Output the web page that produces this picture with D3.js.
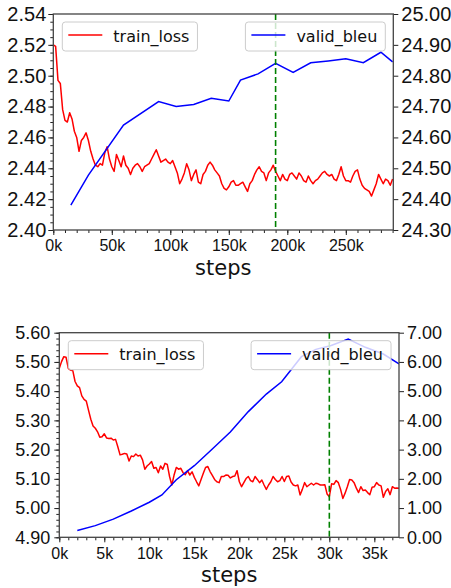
<!DOCTYPE html>
<html>
<head>
<meta charset="utf-8">
<script src="https://cdn.jsdelivr.net/npm/d3@7"></script>
<style>
  body { margin: 0; background: #fff; }
  svg { display: block; font-family: "DejaVu Sans", sans-serif; }
</style>
</head>
<body>
<div id="chart"></div>
<script>
// ---- run 1 (top panel) ----
var topLossEvery = 2000;
var topLoss = [
  2.520, 2.519, 2.497, 2.495, 2.478, 2.471, 2.470, 2.476, 2.472, 2.464,
  2.460, 2.451, 2.458, 2.460, 2.463, 2.458, 2.451, 2.446, 2.442, 2.441,
  2.443, 2.442, 2.450, 2.454, 2.446, 2.441, 2.438, 2.449, 2.445, 2.441,
  2.448, 2.442, 2.440, 2.436, 2.440, 2.442, 2.443, 2.441, 2.438, 2.441,
  2.442, 2.443, 2.446, 2.449, 2.452, 2.448, 2.444, 2.445, 2.446, 2.444,
  2.443, 2.445, 2.441, 2.437, 2.430, 2.433, 2.437, 2.443, 2.439, 2.432,
  2.436, 2.439, 2.431, 2.430, 2.436, 2.438, 2.442, 2.444, 2.442, 2.439,
  2.437, 2.435, 2.430, 2.427, 2.426, 2.428, 2.431, 2.432, 2.429, 2.429,
  2.430, 2.431, 2.428, 2.425, 2.430, 2.432, 2.436, 2.439, 2.441, 2.438,
  2.437, 2.432, 2.437, 2.439, 2.442, 2.438, 2.435, 2.432, 2.436, 2.433,
  2.432, 2.436, 2.437, 2.435, 2.433, 2.437, 2.435, 2.432, 2.431, 2.435,
  2.432, 2.430, 2.432, 2.433, 2.435, 2.437, 2.438, 2.436, 2.435, 2.436,
  2.433, 2.432, 2.436, 2.441, 2.435, 2.432, 2.432, 2.431, 2.435, 2.438,
  2.439, 2.433, 2.429, 2.427, 2.426, 2.425, 2.422, 2.426, 2.430, 2.436,
  2.433, 2.430, 2.433, 2.432, 2.429, 2.433
];
var topBleuSteps = [15000, 30000, 60000, 90000, 105000, 120000, 135000, 150000, 160000,
  175000, 190000, 205000, 220000, 235000, 250000, 265000, 280000, 290000];
var topBleu = [24.381, 24.478, 24.640, 24.716, 24.700, 24.707, 24.727, 24.718, 24.786,
  24.806, 24.840, 24.811, 24.842, 24.848, 24.855, 24.842, 24.876, 24.845];
var topBest = 190000;

// ---- run 2 (bottom panel) ----
var botLossEvery = 250;
var botLoss = [
  5.478, 5.501, 5.518, 5.516, 5.478, 5.472, 5.470, 5.433, 5.418, 5.412,
  5.384, 5.372, 5.366, 5.334, 5.304, 5.281, 5.273, 5.261, 5.242, 5.244,
  5.254, 5.240, 5.238, 5.239, 5.233, 5.235, 5.210, 5.182, 5.184, 5.187,
  5.185, 5.161, 5.178, 5.176, 5.185, 5.178, 5.181, 5.165, 5.133, 5.144,
  5.151, 5.159, 5.136, 5.139, 5.121, 5.144, 5.133, 5.153, 5.149, 5.108,
  5.079, 5.113, 5.139, 5.133, 5.136, 5.121, 5.114, 5.128, 5.113, 5.124,
  5.105, 5.090, 5.076, 5.098, 5.119, 5.139, 5.142, 5.125, 5.112, 5.098,
  5.090, 5.087, 5.108, 5.108, 5.113, 5.112, 5.103, 5.108, 5.110, 5.128,
  5.090, 5.073, 5.087, 5.101, 5.108, 5.094, 5.090, 5.108, 5.098, 5.087,
  5.096, 5.079, 5.064, 5.079, 5.090, 5.108, 5.098, 5.090, 5.094, 5.108,
  5.091, 5.108, 5.110, 5.089, 5.079, 5.076, 5.079, 5.045, 5.064, 5.087,
  5.073, 5.079, 5.085, 5.079, 5.085, 5.083, 5.079, 5.079, 5.080, 5.048,
  5.039, 5.083, 5.081, 5.094, 5.087, 5.064, 5.033, 5.051, 5.073, 5.098,
  5.096, 5.087, 5.068, 5.053, 5.073, 5.060, 5.062, 5.053, 5.046, 5.071,
  5.073, 5.087, 5.079, 5.076, 5.037, 5.057, 5.066, 5.046, 5.073, 5.068,
  5.069, 5.068
];
var botBleuSteps = [2000, 4000, 6000, 8000, 10000, 11400, 13000, 15000, 17000, 19000,
  21000, 23000, 24700, 26900, 28500, 30200, 32100, 34000, 36000, 37740];
var botBleu = [0.23, 0.40, 0.62, 0.90, 1.20, 1.45, 1.97, 2.45, 3.02, 3.60,
  4.30, 4.90, 5.32, 6.18, 6.43, 6.56, 6.78, 6.50, 6.27, 5.93];
var botBest = 30000;

var W = 451, H = 588;
var svg = d3.select("#chart").append("svg")
  .attr("width", W)
  .attr("height", H);

function panel(o) {
  var g = svg.append("g");
  var x = d3.scaleLinear().domain(o.xDomain).range([o.left, o.right]);
  var yL = d3.scaleLinear().domain(o.yLDomain).range([o.bottom, o.top]);
  var yR = d3.scaleLinear().domain(o.yRDomain).range([o.bottom, o.top]);
  var fmtK = d => (d / 1000) + "k";

  var clipId = "clip" + o.id;
  g.append("clipPath").attr("id", clipId)
    .append("rect")
    .attr("x", o.left).attr("y", o.top)
    .attr("width", o.right - o.left).attr("height", o.bottom - o.top);

  // minor ticks
  g.append("g").attr("transform", `translate(0,${o.bottom})`)
    .call(d3.axisBottom(x).tickValues(o.xMinor).tickSize(3).tickFormat(""))
    .call(a => a.select(".domain").remove());
  g.append("g").attr("transform", `translate(${o.left},0)`)
    .call(d3.axisLeft(yL).tickValues(o.yLMinor).tickSize(3).tickFormat(""))
    .call(a => a.select(".domain").remove());

  // major ticks
  var ax = g.append("g").attr("transform", `translate(0,${o.bottom})`)
    .call(d3.axisBottom(x).tickValues(o.xTicks).tickSize(5).tickPadding(5).tickFormat(fmtK));
  var ayl = g.append("g").attr("transform", `translate(${o.left},0)`)
    .call(d3.axisLeft(yL).tickValues(o.yLTicks).tickSize(5).tickPadding(o.padL).tickFormat(d3.format(".2f")));
  var ayr = g.append("g").attr("transform", `translate(${o.right},0)`)
    .call(d3.axisRight(yR).tickValues(o.yRTicks).tickSize(5).tickPadding(3).tickFormat(d3.format(".2f")));
  [ax, ayl, ayr].forEach(a => {
    a.select(".domain").remove();
    a.selectAll("text").attr("fill", "#111");
  });
  ax.selectAll("text").style("font-size", "16px");
  ayl.selectAll("text").style("font-size", o.ySize);
  ayr.selectAll("text").style("font-size", o.ySize);
  g.selectAll(".tick line").attr("stroke", "#222");

  // data lines
  var lineL = d3.line().x(d => x(d[0])).y(d => yL(d[1]));
  var lineR = d3.line().x(d => x(d[0])).y(d => yR(d[1]));
  var lossPts = o.loss.map((v, i) => [i * o.lossEvery, v]);
  var bleuPts = o.bleuSteps.map((s, i) => [s, o.bleu[i]]);
  var plot = g.append("g").attr("clip-path", `url(#${clipId})`);
  plot.append("path").datum(lossPts)
    .attr("fill", "none").attr("stroke", "#ff0000").attr("stroke-width", 1.5)
    .attr("stroke-linejoin", "round").attr("d", lineL);
  plot.append("path").datum(bleuPts)
    .attr("fill", "none").attr("stroke", "#0000ff").attr("stroke-width", 1.5)
    .attr("d", lineR);
  plot.append("line")
    .attr("x1", x(o.best)).attr("x2", x(o.best))
    .attr("y1", o.top).attr("y2", o.bottom)
    .attr("stroke", "#008000").attr("stroke-width", 1.6)
    .attr("stroke-dasharray", "6,3");

  // frame
  g.append("rect")
    .attr("x", o.left).attr("y", o.top)
    .attr("width", o.right - o.left).attr("height", o.bottom - o.top)
    .attr("fill", "none").attr("stroke", "#444").attr("stroke-width", 1.3);

  // axis title
  g.append("text")
    .attr("x", (o.left + o.right) / 2).attr("y", o.titleY)
    .attr("text-anchor", "middle")
    .style("font-size", "21px").attr("fill", "#111")
    .text("steps");

  // legends
  function legend(label, color, lx, ly, alignRight) {
    var lg = g.append("g");
    var box = lg.append("rect")
      .attr("y", ly).attr("height", 29).attr("rx", 3)
      .attr("fill", "#fff").attr("fill-opacity", 0.8)
      .attr("stroke", "#ccc").attr("stroke-width", 1);
    var t = lg.append("text")
      .attr("y", ly + 19.5)
      .style("font-size", "16px").attr("fill", "#111")
      .text(label);
    var w = 51 + t.node().getComputedTextLength() + 8;
    var bx = alignRight ? lx - w : lx;
    box.attr("x", bx).attr("width", w);
    t.attr("x", bx + 51);
    lg.append("line")
      .attr("x1", bx + 6).attr("x2", bx + 40)
      .attr("y1", ly + 13).attr("y2", ly + 13)
      .attr("stroke", color).attr("stroke-width", 1.5);
  }
  legend("train_loss", "#ff0000", o.left + 9, o.top + 8, false);
  legend("valid_bleu", "#0000ff", o.right - 8, o.top + 8, true);
}

panel({
  id: "a", left: 53.3, right: 393.3, top: 14, bottom: 230, titleY: 275,
  ySize: "20px", padL: 2,
  xDomain: [0, 290600], yLDomain: [2.40, 2.54], yRDomain: [24.30, 25.00],
  xTicks: [0, 50000, 100000, 150000, 200000, 250000],
  xMinor: d3.range(0, 290001, 10000),
  yLTicks: [2.40, 2.42, 2.44, 2.46, 2.48, 2.50, 2.52, 2.54],
  yLMinor: d3.range(2.40, 2.5401, 0.005),
  yRTicks: [24.30, 24.40, 24.50, 24.60, 24.70, 24.80, 24.90, 25.00],
  loss: topLoss, lossEvery: topLossEvery,
  bleuSteps: topBleuSteps, bleu: topBleu, best: topBest
});

panel({
  id: "b", left: 59.3, right: 399, top: 332.7, bottom: 537.3, titleY: 582,
  ySize: "18px", padL: 4,
  xDomain: [0, 37740], yLDomain: [4.90, 5.60], yRDomain: [0, 7],
  xTicks: [0, 5000, 10000, 15000, 20000, 25000, 30000, 35000],
  xMinor: d3.range(0, 37001, 1000),
  yLTicks: [4.90, 5.00, 5.10, 5.20, 5.30, 5.40, 5.50, 5.60],
  yLMinor: d3.range(4.90, 5.6001, 0.02),
  yRTicks: [0, 1, 2, 3, 4, 5, 6, 7],
  loss: botLoss, lossEvery: botLossEvery,
  bleuSteps: botBleuSteps, bleu: botBleu, best: botBest
});
</script>
</body>
</html>
